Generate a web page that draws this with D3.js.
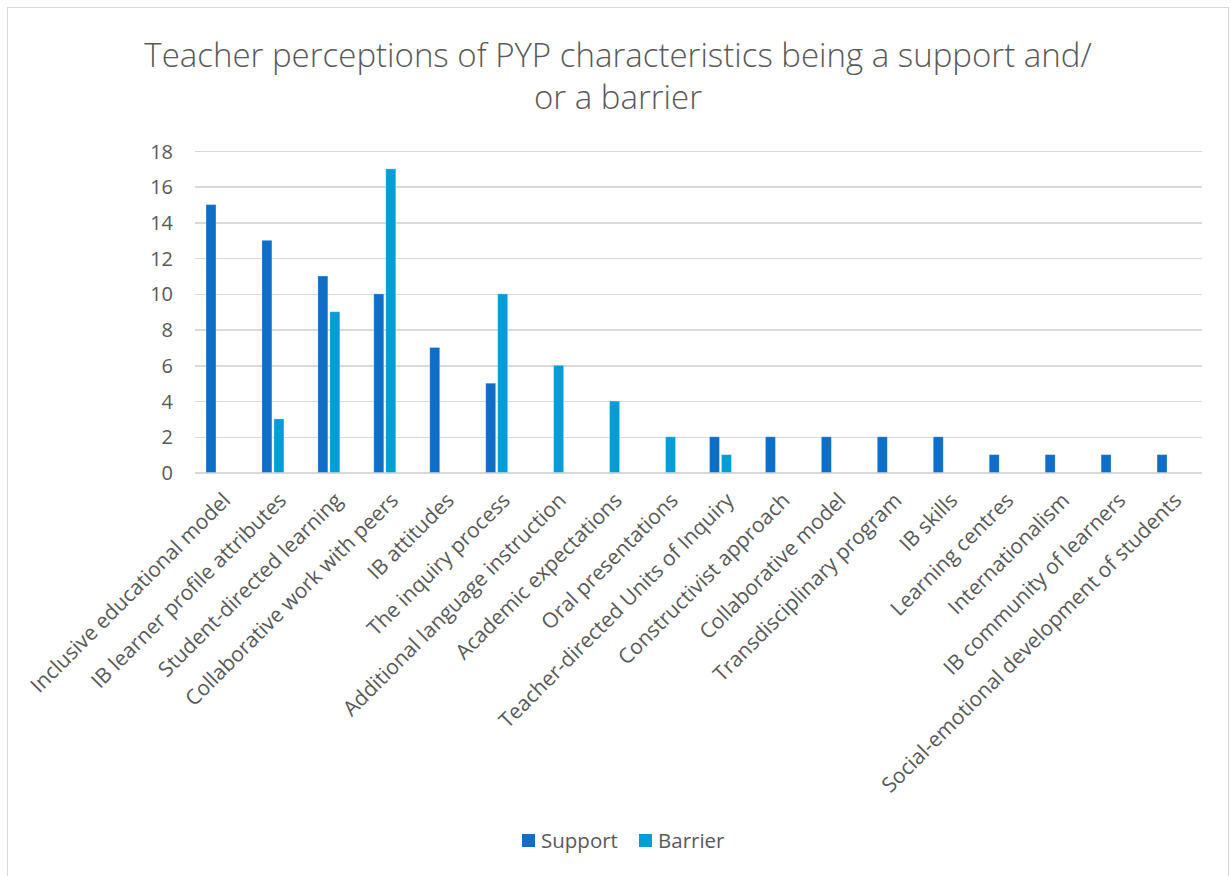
<!DOCTYPE html>
<html lang="en">
<head>
<meta charset="UTF-8">
<title>PYP characteristics</title>
<script src="https://cdn.jsdelivr.net/npm/d3@7"></script>
<style>
  body { margin: 0; background: #fff; }
  .grid line { stroke: #d9d9d9; stroke-width: 1.5px; shape-rendering: crispEdges; }
  .grid path { stroke-width: 0; }
  .yaxis path, .yaxis line { display: none; }
  .yaxis text { font-family: "Open Sans", sans-serif; font-size: 20px; fill: #595959; }
  .xlab { font-family: "Open Sans", sans-serif; font-size: 21px; fill: #595959; }
  .title { font-family: "Open Sans", sans-serif; font-weight: 300; font-size: 33px; fill: #595959; }
  .legend text { font-family: "Open Sans", sans-serif; font-size: 20.5px; fill: #595959; }
</style>
</head>
<body>
<div id="chart"></div>
<script>
// data
var categories = [
  "Inclusive educational model", "IB learner profile attributes", "Student-directed learning",
  "Collaborative work with peers", "IB attitudes", "The inquiry process",
  "Additional language instruction", "Academic expectations", "Oral presentations",
  "Teacher-directed Units of Inquiry", "Constructivist approach", "Collaborative model",
  "Transdisciplinary program", "IB skills", "Learning centres", "Internationalism",
  "IB community of learners", "Social-emotional development of students"
];
var support = [15, 13, 11, 10, 7, 5, 0, 0, 0, 2, 2, 2, 2, 2, 1, 1, 1, 1];
var barrier = [0, 3, 9, 17, 0, 10, 6, 4, 2, 1, 0, 0, 0, 0, 0, 0, 0, 0];
var seriesNames = ["Support", "Barrier"];
var yTicks = [0, 2, 4, 6, 8, 10, 12, 14, 16, 18];
var titleLines = ["Teacher perceptions of PYP characteristics being a support and/", "or a barrier"];

var colors = {"Support": "#0F6FC6", "Barrier": "#009DD9"};

var width = 1231, height = 876;
var plotL = 195, plotR = 1202, plotT = 151, plotB = 472.5;

var svg = d3.select("#chart").append("svg")
  .attr("width", width).attr("height", height);

// chart border
svg.append("rect")
  .attr("x", 7.5).attr("y", 7.5).attr("width", 1221).attr("height", 900)
  .attr("fill", "#fff").attr("stroke", "#d9d9d9").attr("stroke-width", 1);

// scales
var x0 = d3.scaleBand().domain(categories).range([plotL, plotR]);
// Excel reserves a third (empty) slot in each group
var x1 = d3.scaleBand().domain(["Support", "Barrier", "_"]).range([0, x0.bandwidth()])
  .paddingInner(0.1667).paddingOuter(0.915);
var y = d3.scaleLinear().domain([0, 18]).range([plotB, plotT]);

// grid
svg.append("g").attr("class", "grid")
  .attr("transform", "translate(" + plotL + ",0)")
  .call(d3.axisLeft(y).tickValues(yTicks).tickSize(plotL - plotR).tickFormat(""));

svg.append("g").attr("class", "yaxis")
  .attr("transform", "translate(" + (plotL - 22) + ",0)")
  .call(d3.axisLeft(y).tickValues(yTicks).tickSize(0))
  .selectAll("text").attr("x", 0).attr("dy", "0.35em");

// bars
var rows = categories.map(function(c, i) {
  return {cat: c, vals: [{k: "Support", v: support[i]}, {k: "Barrier", v: barrier[i]}]};
});
var groups = svg.selectAll(".grp").data(rows).enter().append("g")
  .attr("class", "grp")
  .attr("transform", function(d) { return "translate(" + x0(d.cat) + ",0)"; });
groups.selectAll("rect").data(function(d) { return d.vals.filter(function(e) { return e.v > 0; }); })
  .enter().append("rect")
  .attr("x", function(d) { return x1(d.k); })
  .attr("y", function(d) { return y(d.v); })
  .attr("width", x1.bandwidth())
  .attr("height", function(d) { return y(0) - y(d.v); })
  .attr("fill", function(d) { return colors[d.k]; })
  .attr("stroke", "#fff").attr("stroke-opacity", 0.35).attr("stroke-width", 0.8);

// x labels
svg.selectAll(".xlab").data(categories).enter().append("text")
  .attr("class", "xlab")
  .attr("text-anchor", "end")
  .attr("dy", "0.72em")
  .attr("transform", function(d) {
    return "translate(" + (x0(d) + x0.bandwidth() / 2 - 2) + ",491) rotate(-45)";
  })
  .text(function(d) { return d; });

// title
svg.selectAll(".title").data(titleLines).enter().append("text")
  .attr("class", "title")
  .attr("text-anchor", "middle")
  .attr("x", 618)
  .attr("y", function(d, i) { return 67 + i * 42; })
  .text(function(d) { return d; });

// legend
var leg = svg.append("g").attr("class", "legend");
var legX = [522, 639];
seriesNames.forEach(function(s, i) {
  leg.append("rect").attr("x", legX[i]).attr("y", 834).attr("width", 13).attr("height", 13)
    .attr("fill", colors[s]);
  leg.append("text").attr("x", legX[i] + 19).attr("y", 841).attr("dy", "0.35em").text(s);
});
</script>
</body>
</html>
